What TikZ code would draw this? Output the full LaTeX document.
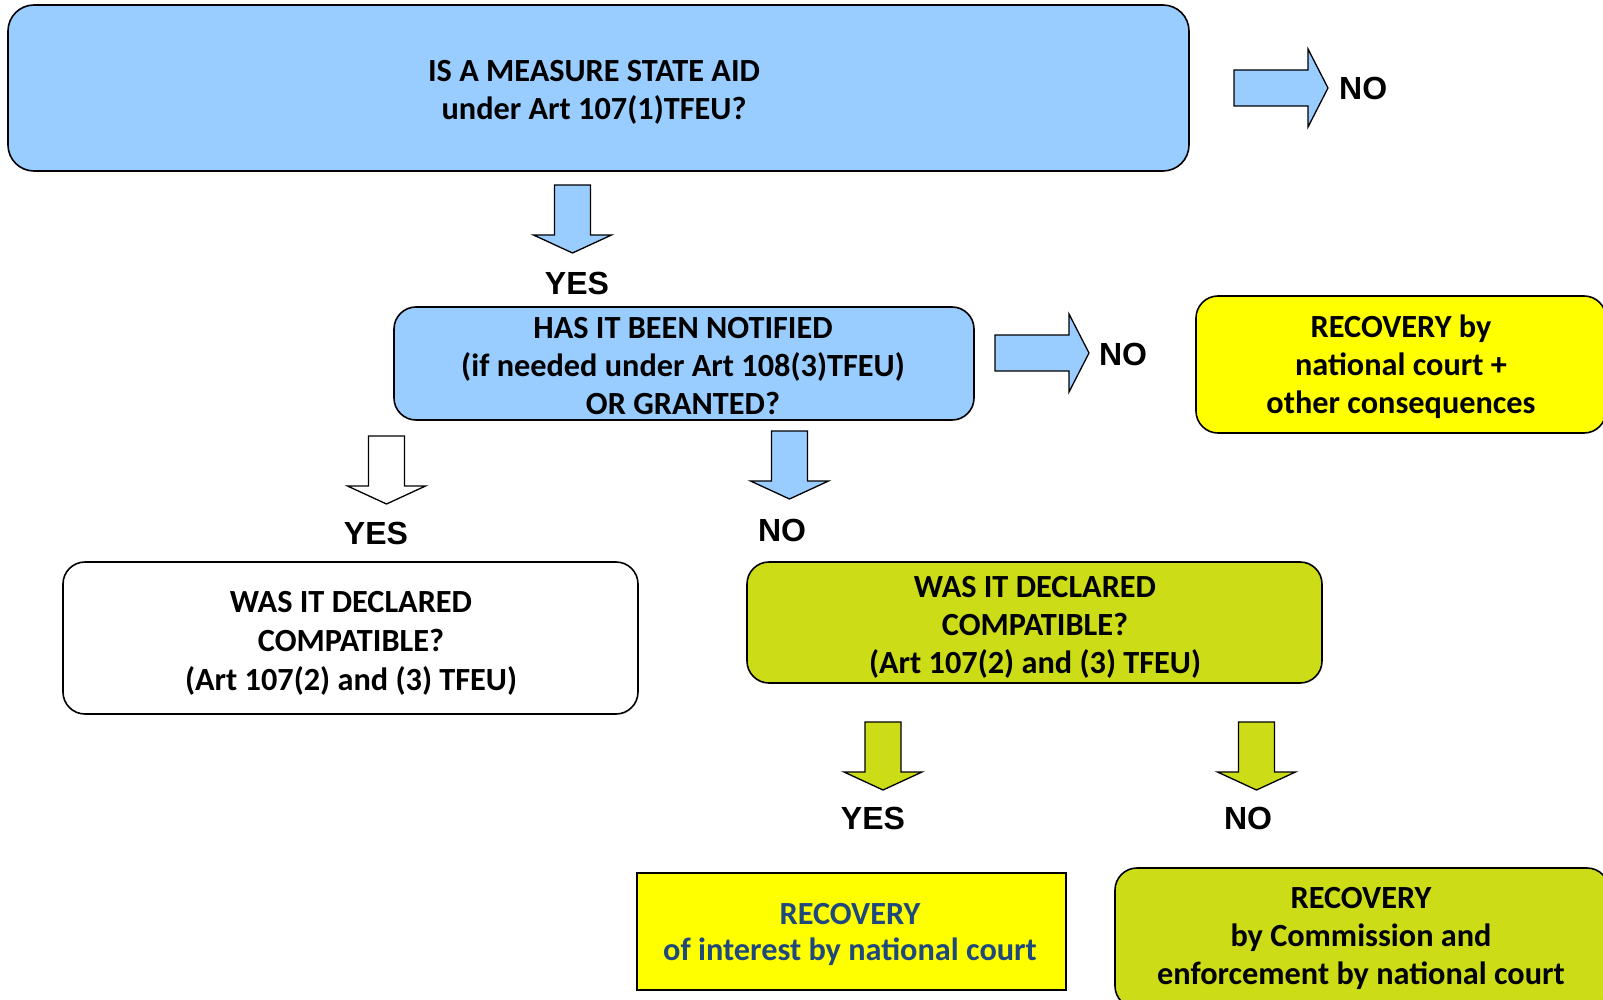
\documentclass[tikz,border=0pt]{standalone}
\usepackage{fontspec}
\setmainfont{Carlito}
\newfontfamily\arialfont{Liberation Sans}
\definecolor{aidblue}{RGB}{153,204,255}
\definecolor{aidyellow}{RGB}{255,255,0}
\definecolor{aidgreen}{RGB}{204,221,23}
\definecolor{darkblue}{RGB}{31,73,125}
\tikzset{
  box/.style={draw=black,line width=1.6pt,rounded corners=22pt,inner sep=0pt},
  boxtext/.style={align=center,inner sep=0pt,anchor=base,
    font=\fontsize{32.3}{38}\selectfont\bfseries},
  answer/.style={font=\arialfont\fontsize{32}{36}\selectfont\bfseries,inner sep=0pt},
  arrline/.style={draw=black,line width=1.3pt,line join=miter},
  pics/arrdown/.style={code={
    \draw[arrline,fill=#1] (-18,0) -- (18,0) -- (18,50) -- (39,50) -- (0,68)
      -- (-39,50) -- (-18,50) -- cycle;}},
  pics/arrright/.style={code={
    \draw[arrline,fill=#1] (0,-18) -- (74,-18) -- (74,-39) -- (94,0) -- (74,39)
      -- (74,18) -- (0,18) -- cycle;}},
}
\begin{document}
\begin{tikzpicture}[x=1pt,y=-1pt]
  \clip (0,0) rectangle (1603,1000);
  \useasboundingbox (0,0) rectangle (1603,1000);
  % question boxes (text placed by the baseline of its last line)
  \node[box,fill=aidblue,minimum width=1181,minimum height=166,rounded corners=26pt]
    (measure) at (598.5,88) {};
  \node[boxtext] (measure-t) at (594,120) {IS A MEASURE STATE AID\\under Art 107(1)TFEU?};
  \node[box,fill=aidblue,minimum width=580,minimum height=113]
    (notified) at (684,363.5) {};
  \node[boxtext] (notified-t) at (683,414)
    {HAS IT BEEN NOTIFIED\\(if needed under Art 108(3)TFEU)\\OR GRANTED?};
  \node[box,fill=aidyellow,minimum width=410,minimum height=137]
    (nationalrec) at (1401,364.5) {};
  \node[boxtext] (nationalrec-t) at (1401,413)
    {RECOVERY by\\national court +\\other consequences};
  \node[box,fill=white,minimum width=575,minimum height=152]
    (compatyes) at (350.5,638) {};
  \node[boxtext,font=\fontsize{32.3}{39}\selectfont\bfseries] (compatyes-t) at (351,690)
    {WAS IT DECLARED\\COMPATIBLE?\\(Art 107(2) and (3) TFEU)};
  \node[box,fill=aidgreen,minimum width=575,minimum height=121]
    (compatno) at (1034.5,622.5) {};
  \node[boxtext] (compatno-t) at (1035,673)
    {WAS IT DECLARED\\COMPATIBLE?\\(Art 107(2) and (3) TFEU)};
  % results
  \node[box,fill=aidyellow,rounded corners=0pt,minimum width=429,minimum height=117]
    (interest) at (851.5,931.5) {};
  \node[boxtext,text=darkblue,font=\fontsize{32.3}{36}\selectfont\bfseries]
    (interest-t) at (850,960) {RECOVERY\\of interest by national court};
  \node[box,fill=aidgreen,minimum width=494,minimum height=140]
    (commission) at (1362,938) {};
  \node[boxtext] (commission-t) at (1361,984)
    {RECOVERY\\by Commission and\\enforcement by national court};
  % block arrows
  \pic at (1234,88) {arrright=aidblue};
  \pic at (995,353) {arrright=aidblue};
  \pic at (572.5,185) {arrdown=aidblue};
  \pic at (386.5,436) {arrdown=white};
  \pic at (789.5,431) {arrdown=aidblue};
  \pic at (883,722) {arrdown=aidgreen};
  \pic at (1256.5,722) {arrdown=aidgreen};
  % answers
  \node[answer,anchor=west] (no1) at (1339,88) {NO};
  \node[answer] (yes1) at (577,283) {YES};
  \node[answer] (no2) at (1123,354) {NO};
  \node[answer] (yes2) at (376,533) {YES};
  \node[answer] (no3) at (782,530) {NO};
  \node[answer] (yes3) at (873,818) {YES};
  \node[answer] (no4) at (1248,818) {NO};
\end{tikzpicture}
\end{document}
